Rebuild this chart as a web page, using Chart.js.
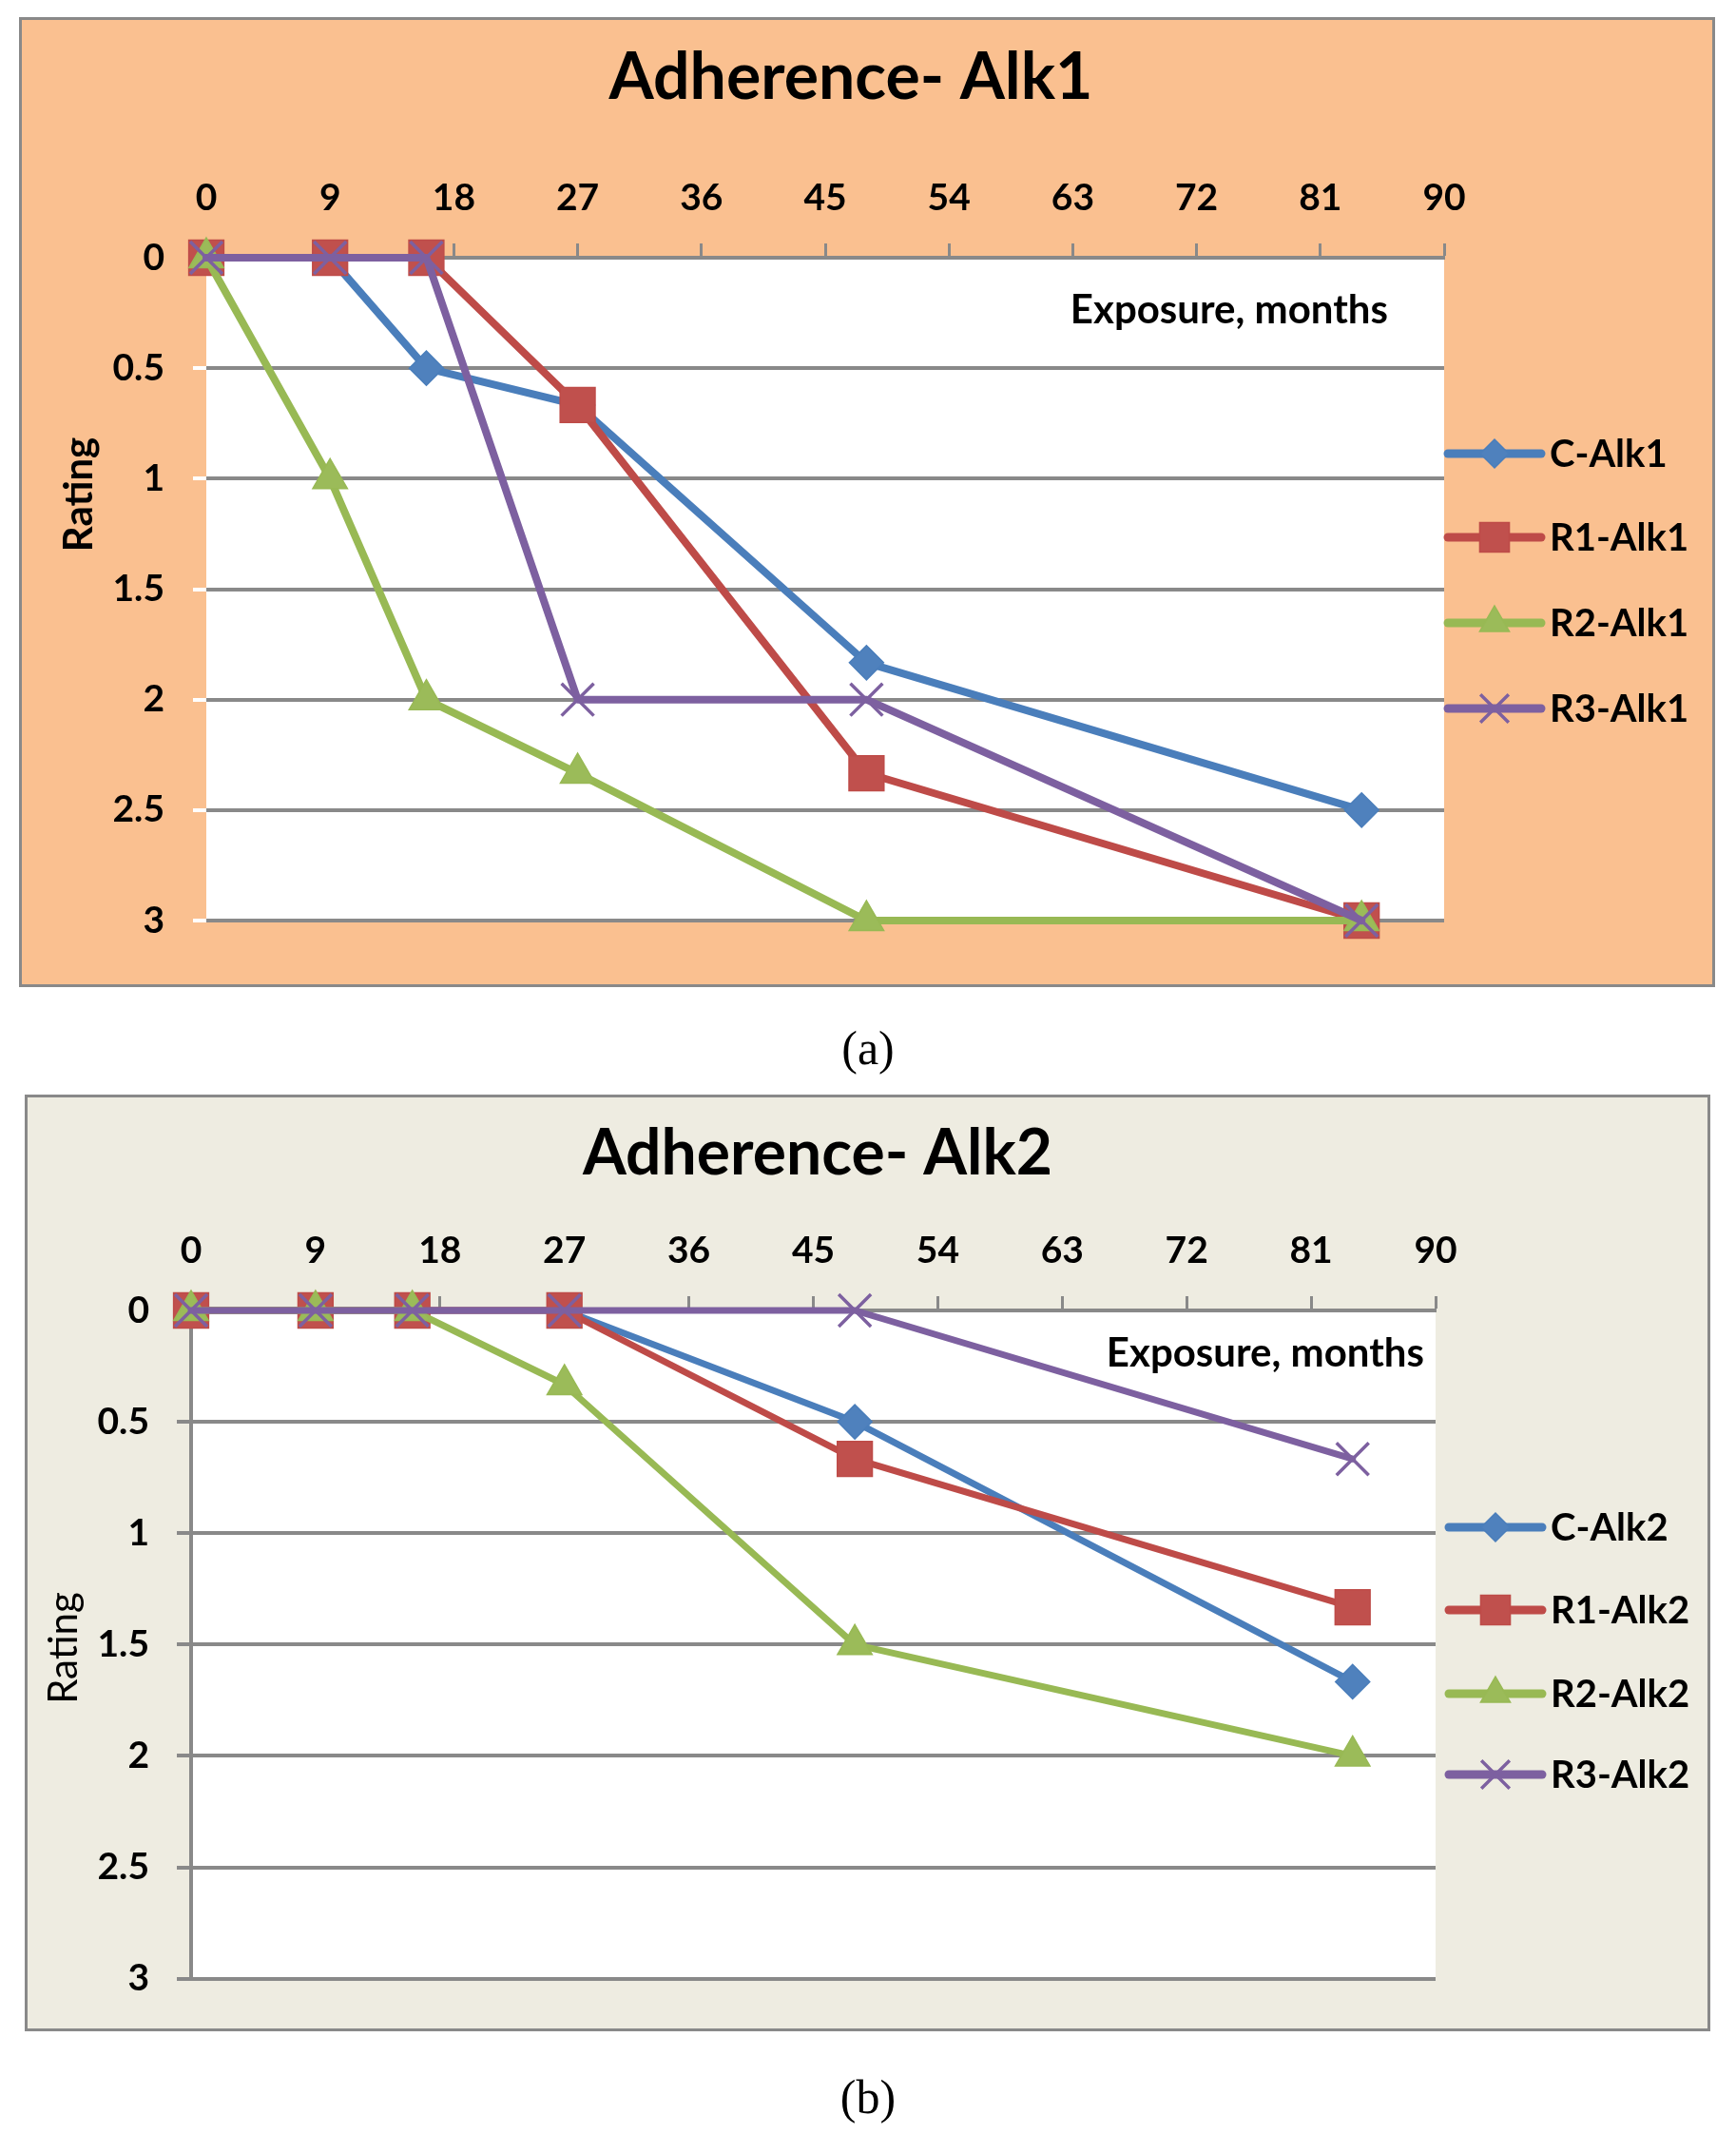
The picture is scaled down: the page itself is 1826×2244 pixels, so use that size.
<!DOCTYPE html>
<html lang="en">
<head>
  <meta charset="UTF-8" />
  <title>Adherence — Alk1 and Alk2</title>
  <style>
    body { margin: 0; background: #fff; width: 1826px; height: 2244px; position: relative; }
    .box { position: absolute; box-sizing: border-box; border: 3px solid #898989; }
    #boxA { left: 20px; top: 18px; width: 1784px; height: 1020px; background: #FAC090; }
    #boxB { left: 26px; top: 1151px; width: 1773px; height: 985px; background: #EEECE1; }
    .box canvas { position: absolute; left: 0; top: 0; }
    .caption { position: absolute; left: 0; width: 1826px; text-align: center;
               font: 50px "Liberation Serif", "DejaVu Serif", serif; line-height: 56px; }
  </style>
</head>
<body>

  <div class="box" id="boxA"><canvas id="chartA" width="1778" height="1014"></canvas></div>
  <div class="caption" style="top:1074px">(a)</div>

  <div class="box" id="boxB"><canvas id="chartB" width="1767" height="979"></canvas></div>
  <div class="caption" style="top:2177px">(b)</div>

  <script src="https://cdn.jsdelivr.net/npm/chart.js"></script>
  <script>
    // exposure, months
    const months = [0, 9, 16, 27, 48, 84];

    const xTickValues = [0, 9, 18, 27, 36, 45, 54, 63, 72, 81, 90];
    const xTickLabels = ['0', '9', '18', '27', '36', '45', '54', '63', '72', '81', '90'];
    const yTickValues = [0, 0.5, 1, 1.5, 2, 2.5, 3];
    const yTickLabels = ['0', '0.5', '1', '1.5', '2', '2.5', '3'];

    // (a) Alk1
    const namesAlk1 = ['C-Alk1', 'R1-Alk1', 'R2-Alk1', 'R3-Alk1'];
    const cAlk1  = [0, 0, 0.5, 0.667, 1.833, 2.5];
    const r1Alk1 = [0, 0, 0, 0.667, 2.333, 3];
    const r2Alk1 = [0, 1, 2, 2.333, 3, 3];
    const r3Alk1 = [0, 0, 0, 2, 2, 3];

    // (b) Alk2
    const namesAlk2 = ['C-Alk2', 'R1-Alk2', 'R2-Alk2', 'R3-Alk2'];
    const cAlk2  = [0, 0, 0, 0, 0.5, 1.667];
    const r1Alk2 = [0, 0, 0, 0, 0.667, 1.333];
    const r2Alk2 = [0, 0, 0, 0.333, 1.5, 2];
    const r3Alk2 = [0, 0, 0, 0, 0, 0.667];

    const lineColors = ['#4A7EBB', '#BE4B48', '#98B954', '#7D60A0'];
    const fillColors = ['#4F81BD', '#C0504D', '#9BBB59', '#8064A2'];
    const markers = ['rectRot', 'rect', 'triangle', 'crossRot'];
    const markerRadius = [18, 26, 21, 24];
    const legendRadius = [15, 22, 18, 21];

    const GRAY = '#898989';
    const FONT = 'Lato, "DejaVu Sans", sans-serif';

    Chart.defaults.font.family = FONT;
    Chart.defaults.color = '#000';

    function decor(o) {
      return {
        id: 'decor',
        beforeDraw(chart) {
          const {ctx, chartArea: a} = chart;
          ctx.save();
          ctx.fillStyle = '#fff';
          ctx.fillRect(a.left, a.top, a.right - a.left, a.bottom - a.top);
          ctx.restore();
        },
        afterDraw(chart) {
          const ctx = chart.ctx;
          ctx.save();
          ctx.fillStyle = '#000';

          ctx.font = 'bold ' + o.titleSize + 'px ' + FONT;
          ctx.textAlign = 'center';
          ctx.textBaseline = 'alphabetic';
          ctx.fillText(o.title, o.titleX, o.titleY);

          ctx.font = 'bold 42px ' + FONT;
          ctx.textAlign = 'right';
          ctx.fillText('Exposure, months', o.expX, o.expY);

          ctx.save();
          ctx.translate(o.ratingX, o.ratingY);
          ctx.rotate(-Math.PI / 2);
          ctx.font = o.ratingWeight + ' 42px ' + FONT;
          ctx.textAlign = 'center';
          ctx.textBaseline = 'middle';
          ctx.fillText('Rating', 0, 0);
          ctx.restore();

          // legend: line segment with the marker on it
          chart.data.datasets.forEach((ds, i) => {
            const y = o.legendY[i];
            ctx.strokeStyle = ds.borderColor;
            ctx.lineWidth = 9;
            ctx.lineCap = 'round';
            ctx.beginPath();
            ctx.moveTo(o.legendX, y);
            ctx.lineTo(o.legendX + 98, y);
            ctx.stroke();

            ctx.fillStyle = ds.pointBackgroundColor;
            ctx.strokeStyle = ds.pointBorderColor;
            ctx.lineWidth = ds.pointBorderWidth;
            ctx.lineCap = 'butt';
            Chart.helpers.drawPoint(ctx, {
              pointStyle: ds.pointStyle, radius: legendRadius[i],
              borderWidth: ds.pointBorderWidth, rotation: 0
            }, o.legendX + 49, y);

            ctx.fillStyle = '#000';
            ctx.font = 'bold 40px ' + FONT;
            ctx.textAlign = 'left';
            ctx.textBaseline = 'middle';
            ctx.fillText(ds.label, o.legendX + 107, y + 1);
          });
          ctx.restore();
        }
      };
    }

    function makeChart(id, names, series, o) {
      const datasets = names.map((name, i) => ({
        label: name,
        data: months.map((m, j) => ({x: m, y: series[i][j]})),
        borderColor: lineColors[i],
        backgroundColor: fillColors[i],
        borderWidth: o.lineWidth,
        borderCapStyle: 'round',
        borderJoinStyle: 'round',
        pointStyle: markers[i],
        pointRadius: markerRadius[i],
        pointBackgroundColor: fillColors[i],
        pointBorderColor: lineColors[i],
        pointBorderWidth: i === 3 ? 3.5 : 1.5,
        tension: 0,
        fill: false,
        clip: false,
        order: 3 - i
      }));

      return new Chart(document.getElementById(id), {
        type: 'line',
        data: { datasets },
        options: {
          responsive: false,
          animation: false,
          devicePixelRatio: 1,
          layout: { padding: { left: 0, top: 0, right: o.padRight, bottom: o.padBottom } },
          plugins: {
            legend: { display: false },
            title: { display: false },
            tooltip: { enabled: false }
          },
          scales: {
            x: {
              type: 'linear',
              position: 'top',
              min: 0,
              max: 90,
              afterFit(s) { s.height = o.areaTop; },
              afterBuildTicks(s) { s.ticks = xTickValues.map(v => ({value: v})); },
              ticks: {
                autoSkip: false,
                maxRotation: 0,
                padding: 24,
                font: { size: 39, weight: 'bold' },
                callback: (v, i) => xTickLabels[i]
              },
              grid: {
                drawOnChartArea: false,
                tickLength: 15,
                tickColor: GRAY,
                tickWidth: 3
              },
              border: { color: GRAY, width: 4 }
            },
            y: {
              type: 'linear',
              reverse: true,
              min: 0,
              max: 3,
              afterFit(s) { s.width = o.areaLeft; },
              afterBuildTicks(s) { s.ticks = yTickValues.map(v => ({value: v})); },
              ticks: {
                padding: o.yPad,
                font: { size: 39, weight: 'bold' },
                callback: (v, i) => yTickLabels[i]
              },
              grid: {
                color: GRAY,
                lineWidth: 4,
                tickLength: o.yTick,
                tickColor: o.yTickColor,
                tickWidth: 4
              },
              border: { display: o.yBorder, color: GRAY, width: 4 }
            }
          }
        },
        plugins: [decor(o)]
      });
    }

    makeChart('chartA', namesAlk1, [cAlk1, r1Alk1, r2Alk1, r3Alk1], {
      title: 'Adherence- Alk1', titleSize: 68, titleX: 872, titleY: 83,
      expX: 1437, expY: 319,
      ratingX: 60, ratingY: 499, ratingWeight: 'bold',
      legendX: 1500, legendY: [456, 544, 634, 724],
      areaTop: 250, areaLeft: 194, padRight: 282, padBottom: 67,
      yPad: 30, yTick: 14, yTickColor: '#fff', yBorder: false,
      lineWidth: 8
    });

    makeChart('chartB', namesAlk2, [cAlk2, r1Alk2, r2Alk2, r3Alk2], {
      title: 'Adherence- Alk2', titleSize: 66, titleX: 831, titleY: 81,
      expX: 1469, expY: 283,
      ratingX: 38, ratingY: 579, ratingWeight: 'normal',
      legendX: 1495, legendY: [452, 539, 627, 712],
      areaTop: 224, areaLeft: 172, padRight: 286, padBottom: 44,
      yPad: 29, yTick: 15, yTickColor: GRAY, yBorder: true,
      lineWidth: 7
    });
  </script>
</body>
</html>
